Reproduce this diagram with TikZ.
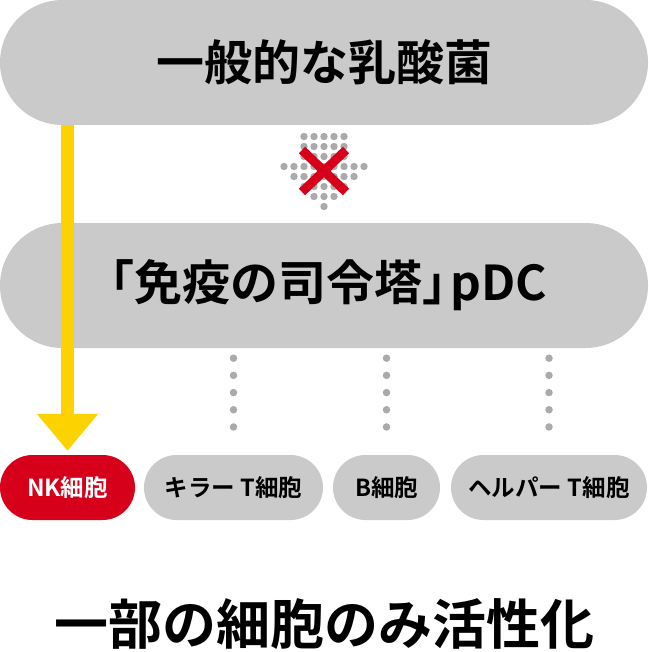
\documentclass[tikz,border=0pt]{standalone}
\usepackage{fontspec}
\newfontfamily\jpb{Noto Sans CJK JP Bold}
\usetikzlibrary{arrows.meta}
\definecolor{pillgray}{HTML}{C9CAC9}
\definecolor{dotgray}{HTML}{AAAAAA}
\definecolor{mkred}{HTML}{D7001A}
\definecolor{mkyellow}{HTML}{FCD200}
\begin{document}
\begin{tikzpicture}[x=1pt,y=-1pt,
  bigpill/.style={rectangle, fill=pillgray, rounded corners=62.49pt, inner sep=0pt,
    minimum width=648pt, minimum height=125pt, text=black,
    font=\jpb\fontsize{48}{48}\selectfont},
  smallpill/.style={rectangle, fill=pillgray, rounded corners=32.49pt, inner sep=0pt,
    minimum height=65pt, text=black, font=\jpb\fontsize{23.5}{23.5}\selectfont},
  activepill/.style={smallpill, fill=mkred, text=white},
  yarrow/.style={draw=mkyellow, line width=13pt,
    -{Triangle[width=59pt,length=37pt,fill=mkyellow]}, shorten >=4pt},
  dotline/.style={draw=dotgray, line width=7.5pt, line cap=round,
    dash pattern=on 0pt off 17.19pt, shorten <=10pt, shorten >=11pt},
  blockdot/.style={fill=dotgray},
  xmark/.style={draw=mkred, line width=9pt},
  resultlabel/.style={font=\jpb\fontsize{54}{54}\selectfont, text=black, inner sep=0pt}
]
\useasboundingbox (0,0) rectangle (648,652);

% big pills
\node[bigpill] (lab) at (324,62.5) {一般的な乳酸菌};
\node[bigpill] (pdc) at (324,285.5) {「免疫の司令塔」\kern-20pt pDC\hspace*{14pt}};

% small pills
\node[activepill, minimum width=135pt] (nk) at (67.5,487.5) {NK細胞};
\node[smallpill, minimum width=179pt] (killer) at (233.5,487.5) {キラー T細胞};
\node[smallpill, minimum width=107pt] (bcell) at (386.5,487.5) {B細胞};
\node[smallpill, minimum width=196pt] (helper) at (549,487.5) {ヘルパー T細胞};

% blocked dotted arrow
\foreach \k/\n in {0/2,1/2,2/2,3/4,4/3,5/2,6/1,7/0}{
  \foreach \j in {-\n,...,\n}{
    \fill[blockdot] (324+10*\j,136.5+10*\k) circle (3.7pt);
  }
}
\coordinate (xa) at (302,150);
\coordinate (xb) at (346,192);
\coordinate (xc) at (346,150);
\coordinate (xd) at (302,192);
\draw[xmark] (xa) -- (xb);
\draw[xmark] (xc) -- (xd);

% yellow arrow
\draw[yarrow] (nk.north |- lab.south) -- (nk.north);

% dotted connectors
\draw[dotline] (killer.north |- pdc.south) -- (killer.north);
\draw[dotline] (bcell.north |- pdc.south) -- (bcell.north);
\draw[dotline] (helper.north |- pdc.south) -- (helper.north);

% result
\node[resultlabel] (res) at (324,624) {一部の細胞のみ活性化};
\end{tikzpicture}
\end{document}
